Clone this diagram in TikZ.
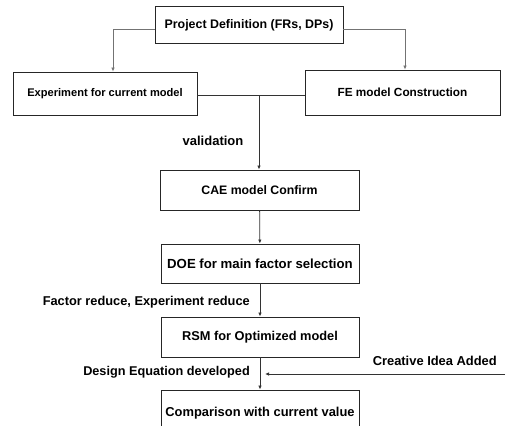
\documentclass[tikz,border=0pt]{standalone}
\usepackage{fontspec}
\setmainfont{Liberation Sans}
\usetikzlibrary{arrows.meta}
\newcommand{\fsz}[1]{\fontsize{#1}{#1}\selectfont\bfseries}
\begin{document}
\begin{tikzpicture}[x=1pt,y=-1pt,
  box/.style={draw=black!85,line width=0.9pt,minimum width=#1,inner sep=0pt},
  lbl/.style={inner sep=0pt},
  conn/.style={draw=black!80,line width=0.8pt,-{Latex[length=4pt,width=3.5pt]}},
  thin/.style={draw=black!55,line width=0.7pt,-{Latex[length=4pt,width=3.5pt]}}]
\useasboundingbox[fill=white] (0,0) rectangle (507,426);
\clip (0,0) rectangle (507,426);
\node[box=188pt,minimum height=37pt,font=\fsz{12.4}] (top) at (249,25) {Project Definition (FRs, DPs)};
\node[box=184pt,minimum height=43pt,font=\fsz{11.1}] (left) at (105,93.5) {Experiment for current model};
\node[box=195pt,minimum height=45pt,font=\fsz{11.8}] (right) at (402.5,92.5) {FE model Construction};
\node[box=199pt,minimum height=40pt,font=\fsz{12.3}] (cae) at (259.5,190) {CAE model Confirm};
\node[box=198pt,minimum height=39pt,font=\fsz{13.2}] (doe) at (260,263.5) {DOE for main factor selection};
\node[box=198pt,minimum height=40pt,font=\fsz{12.8}] (rsm) at (260,337) {RSM for Optimized model};
\node[box=198pt,minimum height=50pt] (cmp) at (260,415) {};
\node[lbl,font=\fsz{12.9}] (cmpt) at (260,413) {Comparison with current value};
\node[lbl,font=\fsz{13}] (val) at (213,141) {validation};
\node[lbl,anchor=east,font=\fsz{12.8}] (fr) at (250,302) {Factor reduce, Experiment reduce};
\node[lbl,anchor=east,font=\fsz{12.7}] (de) at (250,372) {Design Equation developed};
\node[lbl,anchor=east,font=\fsz{12.9}] (cr) at (497,361) {Creative Idea Added};
\coordinate (j) at (259,95);
\coordinate (cs) at (505,374);
\coordinate (ce) at (265,374);
\draw[thin] ([yshift=-4pt]top.west) -| ([xshift=8pt]left.north);
\draw[thin] ([yshift=-4pt]top.east) -| ([xshift=2.5pt]right.north);
\draw[draw=black!80,line width=0.8pt] ([yshift=-1.5pt]left.east) -- ([yshift=-2.5pt]right.west);
\draw[conn] (j) -- (j |- cae.north);
\draw[conn] (cae) -- (doe);
\draw[conn] (doe) -- (rsm);
\draw[conn] (rsm) -- (cmp.north -| rsm);
\draw[conn] (cs) -- (ce);
\end{tikzpicture}
\end{document}
